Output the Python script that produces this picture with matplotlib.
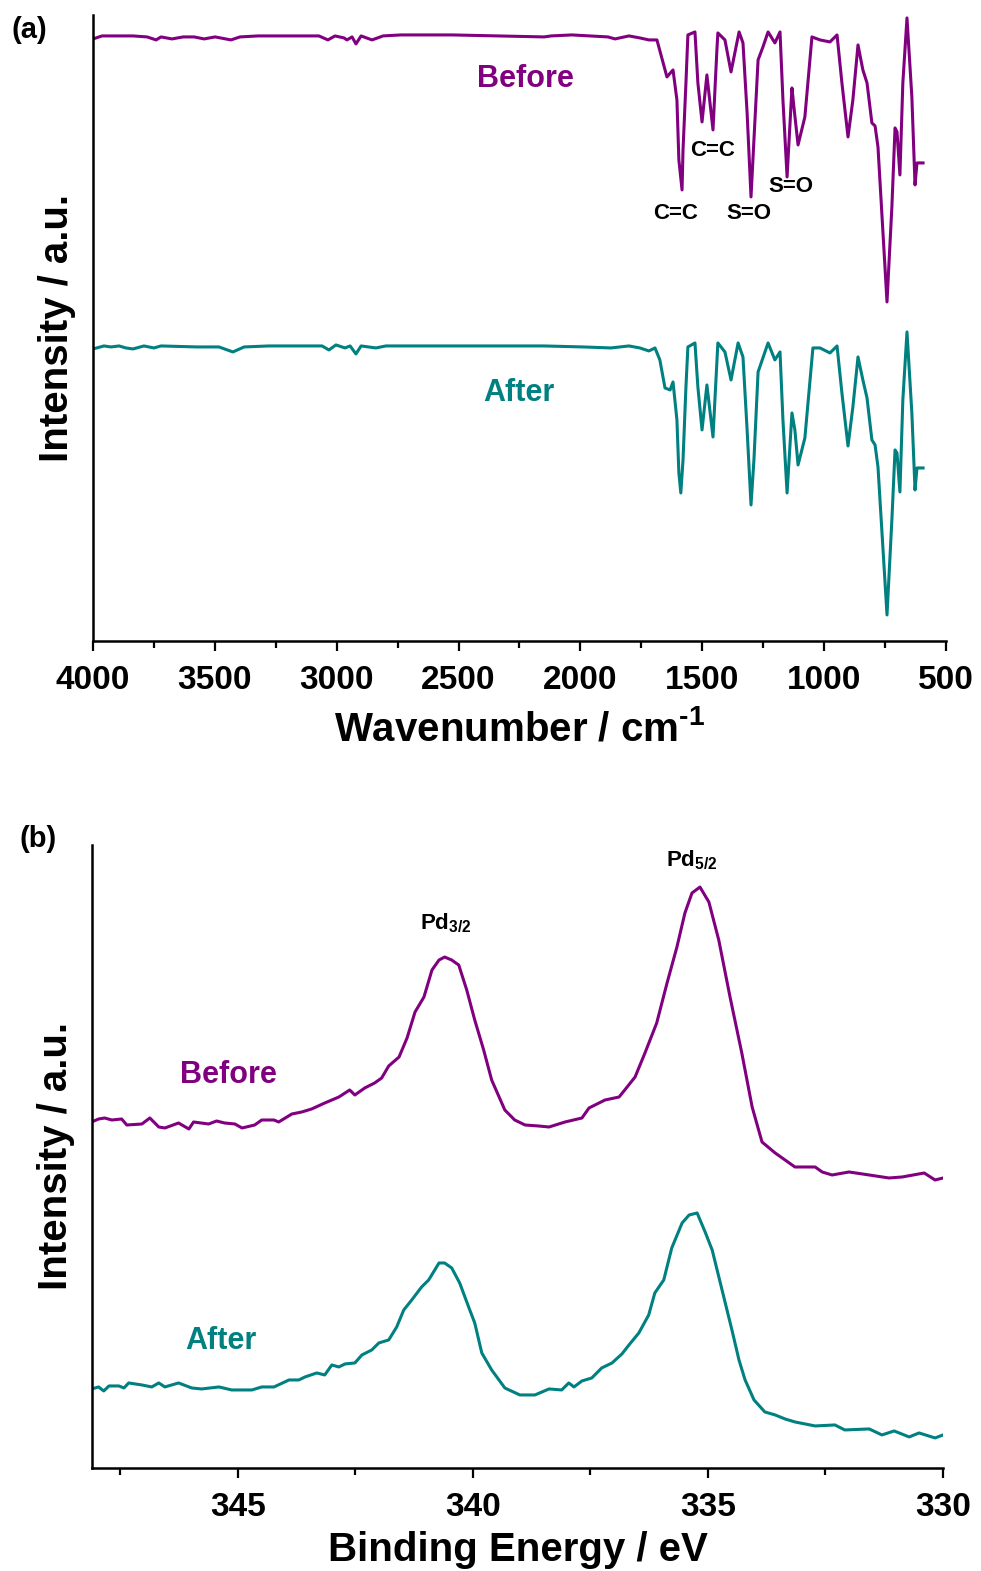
import matplotlib
matplotlib.use("Agg")
import matplotlib.pyplot as plt
from matplotlib.ticker import MultipleLocator

plt.rcParams['font.family'] = ['Liberation Sans', 'DejaVu Sans']
plt.rcParams['font.weight'] = 'bold'
plt.rcParams['mathtext.fontset'] = 'custom'
plt.rcParams['mathtext.rm'] = 'Liberation Sans:bold'
plt.rcParams['mathtext.bf'] = 'Liberation Sans:bold'
plt.rcParams['mathtext.it'] = 'Liberation Sans:bold:italic'

PURPLE = '#800080'
TEAL = '#008080'

# ---- FTIR spectra (wavenumber in cm-1, transmittance in a.u., already stacked)
ir_before_wn = [4000, 3963, 3836, 3778, 3741, 3721, 3676, 3630, 3585, 3544, 3499, 3434, 3397,
                3323, 3073, 3036, 3007, 2970, 2958, 2937, 2921, 2900, 2855, 2810, 2736, 2527,
                2149, 2120, 2035, 1887, 1858, 1801, 1756, 1719, 1686, 1645, 1620, 1604, 1596,
                1583, 1579, 1567, 1559, 1530, 1518, 1501, 1481, 1456, 1440, 1436, 1407, 1382,
                1349, 1333, 1316, 1300, 1288, 1271, 1251, 1230, 1202, 1181, 1169, 1152, 1132,
                1124, 1107, 1079, 1050, 1017, 976, 947, 927, 902, 882, 861, 841, 824, 804, 791,
                779, 742, 722, 709, 701, 689, 677, 660, 640, 627, 619, 594]
ir_before_t = [6.02, 6.05, 6.05, 6.04, 6.01, 6.04, 6.02, 6.04, 6.04, 6.02, 6.04, 6.01, 6.04,
               6.05, 6.05, 6.01, 6.05, 6.03, 6.01, 6.04, 5.97, 6.05, 6.01, 6.05, 6.06, 6.06,
               6.04, 6.05, 6.06, 6.04, 6.02, 6.05, 6.03, 6.01, 6.01, 5.64, 5.71, 5.41, 4.81,
               4.51, 4.91, 5.58, 6.06, 6.09, 5.58, 5.19, 5.66, 5.11, 5.91, 6.08, 6.01, 5.69,
               6.09, 5.98, 5.28, 4.44, 5.01, 5.81, 5.94, 6.09, 5.98, 6.09, 5.41, 4.64, 5.53,
               5.34, 4.96, 5.24, 6.04, 6.01, 5.99, 6.06, 5.58, 5.04, 5.41, 5.96, 5.71, 5.58,
               5.18, 5.15, 4.94, 3.39, 4.34, 5.13, 5.09, 4.66, 5.58, 6.23, 5.44, 4.56, 4.78, 4.78]

ir_after_wn = [4000, 3955, 3926, 3893, 3865, 3836, 3791, 3750, 3721, 3573, 3483, 3426, 3380,
               3278, 3060, 3032, 3003, 2966, 2945, 2921, 2900, 2839, 2798, 2149, 1989, 1875,
               1801, 1756, 1719, 1694, 1674, 1653, 1632, 1620, 1604, 1596, 1588, 1579, 1567,
               1559, 1530, 1518, 1501, 1481, 1456, 1436, 1407, 1382, 1353, 1333, 1316, 1300,
               1288, 1271, 1230, 1202, 1181, 1169, 1152, 1132, 1120, 1107, 1079, 1046, 1017,
               976, 947, 927, 902, 882, 861, 841, 824, 804, 791, 779, 742, 722, 709, 701, 689,
               677, 660, 640, 627, 619, 594]
ir_after_t = [2.92, 2.95, 2.94, 2.95, 2.93, 2.92, 2.95, 2.93, 2.95, 2.94, 2.94, 2.89, 2.94,
              2.95, 2.95, 2.91, 2.96, 2.93, 2.95, 2.87, 2.95, 2.93, 2.95, 2.95, 2.94, 2.93,
              2.95, 2.93, 2.90, 2.93, 2.81, 2.53, 2.51, 2.59, 2.21, 1.68, 1.48, 1.81, 2.54,
              2.94, 2.98, 2.54, 2.11, 2.56, 2.04, 2.98, 2.89, 2.61, 2.98, 2.84, 2.11, 1.36,
              1.81, 2.69, 2.98, 2.81, 2.89, 2.21, 1.48, 2.28, 2.11, 1.76, 2.03, 2.93, 2.93,
              2.88, 2.95, 2.48, 1.95, 2.34, 2.84, 2.61, 2.43, 2.01, 1.96, 1.74, 0.26, 1.21,
              1.91, 1.88, 1.49, 2.41, 3.09, 2.28, 1.51, 1.73, 1.73]

ir_bands = ['C=C', 'C=C', 'S=O', 'S=O']
ir_band_pos = [(1608, 4.27), (1456, 4.90), (1308, 4.27), (1136, 4.54)]

# ---- Pd 3d XPS (binding energy in eV, intensity in a.u., already stacked)
xps_before_be = [348.11, 347.96, 347.83, 347.68, 347.47, 347.36, 347.04, 346.87, 346.68, 346.55,
                 346.26, 346.04, 345.94, 345.62, 345.45, 345.28, 345.06, 344.91, 344.64, 344.49,
                 344.23, 344.13, 343.85, 343.64, 343.43, 343.15, 342.85, 342.62, 342.51, 342.30,
                 342.09, 341.94, 341.79, 341.57, 341.40, 341.23, 341.04, 340.87, 340.72, 340.60,
                 340.45, 340.30, 340.13, 339.96, 339.77, 339.60, 339.32, 339.11, 338.89, 338.60,
                 338.38, 338.04, 337.68, 337.53, 337.19, 336.89, 336.77, 336.55, 336.34, 336.09,
                 335.87, 335.66, 335.49, 335.34, 335.17, 334.98, 334.77, 334.53, 334.28, 334.06,
                 333.85, 333.57, 333.15, 332.72, 332.57, 332.36, 332.00, 331.57, 331.15, 330.87,
                 330.40, 330.17, 330.00]
xps_before_i = [3.46, 3.49, 3.50, 3.48, 3.49, 3.43, 3.44, 3.50, 3.41, 3.40,
                3.45, 3.39, 3.46, 3.44, 3.47, 3.45, 3.44, 3.40, 3.43, 3.48,
                3.48, 3.46, 3.54, 3.56, 3.59, 3.65, 3.71, 3.78, 3.73, 3.80,
                3.85, 3.90, 4.02, 4.11, 4.30, 4.56, 4.71, 4.98, 5.08, 5.11,
                5.08, 5.03, 4.78, 4.48, 4.18, 3.88, 3.58, 3.48, 3.43, 3.42,
                3.41, 3.46, 3.50, 3.60, 3.68, 3.71, 3.78, 3.91, 4.15, 4.45,
                4.85, 5.21, 5.55, 5.75, 5.81, 5.66, 5.28, 4.71, 4.15, 3.61,
                3.26, 3.15, 3.01, 3.01, 2.96, 2.93, 2.96, 2.93, 2.90, 2.91,
                2.95, 2.88, 2.90]

xps_after_be = [348.11, 347.96, 347.85, 347.74, 347.53, 347.42, 347.32, 347.04, 346.83, 346.68,
                346.55, 346.26, 345.98, 345.77, 345.40, 345.13, 344.70, 344.49, 344.23, 343.91,
                343.70, 343.57, 343.32, 343.15, 343.00, 342.85, 342.72, 342.51, 342.36, 342.15,
                342.00, 341.79, 341.62, 341.47, 341.30, 341.09, 340.94, 340.72, 340.60, 340.45,
                340.28, 340.09, 339.96, 339.81, 339.60, 339.32, 339.23, 339.00, 338.68, 338.38,
                338.11, 337.96, 337.85, 337.68, 337.47, 337.26, 337.04, 336.83, 336.68, 336.47,
                336.26, 336.13, 335.94, 335.77, 335.55, 335.40, 335.23, 335.06, 334.91, 334.70,
                334.49, 334.34, 334.21, 334.02, 333.79, 333.57, 333.36, 333.15, 332.72, 332.30,
                332.09, 331.57, 331.30, 331.04, 330.72, 330.51, 330.17, 330.00]
xps_after_i = [0.79, 0.81, 0.77, 0.82, 0.82, 0.80, 0.85, 0.83, 0.81, 0.85,
               0.81, 0.85, 0.80, 0.79, 0.81, 0.78, 0.78, 0.81, 0.81, 0.88,
               0.88, 0.91, 0.95, 0.93, 1.03, 1.01, 1.04, 1.05, 1.13, 1.18,
               1.25, 1.28, 1.41, 1.58, 1.68, 1.81, 1.88, 2.05, 2.05, 2.00,
               1.85, 1.61, 1.45, 1.15, 0.98, 0.80, 0.78, 0.73, 0.73, 0.79,
               0.78, 0.85, 0.81, 0.87, 0.90, 1.00, 1.05, 1.14, 1.23, 1.35,
               1.53, 1.75, 1.88, 2.20, 2.45, 2.53, 2.55, 2.36, 2.18, 1.78,
               1.38, 1.08, 0.88, 0.68, 0.56, 0.53, 0.49, 0.46, 0.42, 0.43,
               0.38, 0.39, 0.33, 0.37, 0.31, 0.35, 0.30, 0.33]

pd_labels = [r'$\mathbf{Pd_{3/2}}$', r'$\mathbf{Pd_{5/2}}$']
pd_label_pos = [(340.57, 5.45), (335.34, 6.08)]


def style_axis(ax):
    for side in ['top', 'right']:
        ax.spines[side].set_visible(False)
    ax.spines['left'].set_linewidth(1.8)
    ax.spines['bottom'].set_linewidth(1.8)
    ax.set_yticks([])
    ax.tick_params(axis='x', which='major', length=7, width=1.6, direction='out',
                   labelsize=24, pad=10)
    ax.tick_params(axis='x', which='minor', length=5, width=1.6, direction='out')


fig = plt.figure(figsize=(9.81, 15.71), dpi=100)

# (a) FTIR
ax1 = fig.add_axes([0.0948, 0.592, 0.8695, 0.3985])
ax1.plot(ir_before_wn, ir_before_t, color=PURPLE, linewidth=2.2)
ax1.plot(ir_after_wn, ir_after_t, color=TEAL, linewidth=2.2)
ax1.set_xlim(4000, 500)
ax1.set_ylim(0, 6.26)
ax1.xaxis.set_major_locator(MultipleLocator(500))
ax1.xaxis.set_minor_locator(MultipleLocator(250))
style_axis(ax1)
ax1.set_xlabel(r'Wavenumber / cm$^{\text{-1}}$', fontsize=29, fontweight='bold', labelpad=10)
ax1.set_ylabel('Intensity / a.u.', fontsize=29, fontweight='bold', labelpad=12)
ax1.text(2227, 5.62, 'Before', color=PURPLE, fontsize=22, fontweight='bold', ha='center', va='center')
ax1.text(2252, 2.48, 'After', color=TEAL, fontsize=22, fontweight='bold', ha='center', va='center')
for lab, (x, y) in zip(ir_bands, ir_band_pos):
    ax1.text(x, y, lab, fontsize=16, fontweight='bold', ha='center', va='center')
fig.text(0.012, 0.981, '(a)', fontsize=21, fontweight='bold', va='center')

# (b) XPS Pd 3d
ax2 = fig.add_axes([0.0938, 0.0656, 0.8675, 0.3965])
ax2.plot(xps_before_be, xps_before_i, color=PURPLE, linewidth=2.2)
ax2.plot(xps_after_be, xps_after_i, color=TEAL, linewidth=2.2)
ax2.set_xlim(348.1, 330)
ax2.set_ylim(0, 6.23)
ax2.xaxis.set_major_locator(MultipleLocator(5))
ax2.xaxis.set_minor_locator(MultipleLocator(2.5))
style_axis(ax2)
ax2.set_xlabel('Binding Energy / eV', fontsize=29, fontweight='bold', labelpad=6)
ax2.set_ylabel('Intensity / a.u.', fontsize=29, fontweight='bold', labelpad=12)
ax2.text(345.19, 3.93, 'Before', color=PURPLE, fontsize=22, fontweight='bold', ha='center', va='center')
ax2.text(345.36, 1.27, 'After', color=TEAL, fontsize=22, fontweight='bold', ha='center', va='center')
for lab, (x, y) in zip(pd_labels, pd_label_pos):
    ax2.text(x, y, lab, fontsize=16, ha='center', va='center')
fig.text(0.02, 0.466, '(b)', fontsize=21, fontweight='bold', va='center')

plt.savefig('out.png', dpi=100)
